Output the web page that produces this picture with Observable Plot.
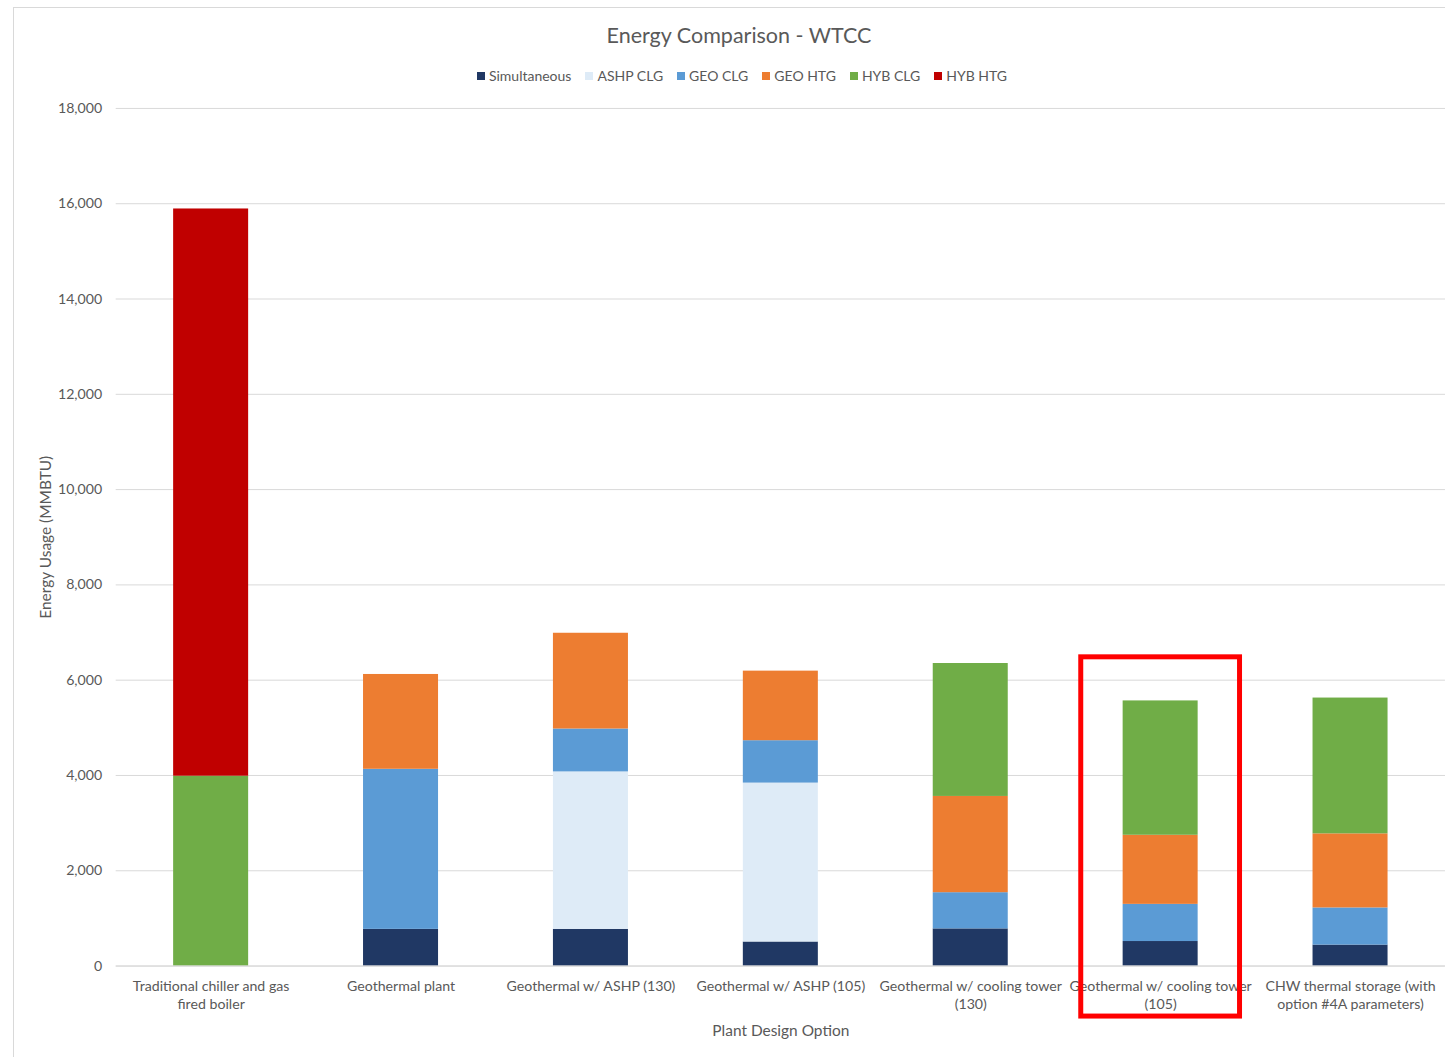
<!DOCTYPE html>
<html>
<head>
<meta charset="utf-8">
<script src="https://cdn.jsdelivr.net/npm/d3@7"></script>
<script src="https://cdn.jsdelivr.net/npm/@observablehq/plot@0.6"></script>
<style>
  html, body { margin: 0; padding: 0; background: #ffffff; overflow: hidden; }
  body { width: 1445px; height: 1057px; position: relative; font-family: Lato, "Open Sans", sans-serif; color: #595959; }
  #frame { position: absolute; left: 13px; top: 7px; width: 1500px; height: 1100px;
           border-left: 1px solid #d9d9d9; border-top: 1px solid #d9d9d9; box-sizing: border-box; }
  #title { position: absolute; left: 13px; top: 21px; width: 1452px; text-align: center;
           font-size: 21.5px; line-height: 28px; color: #595959; }
  #legend { position: absolute; left: 13px; top: 66px; width: 1458px; text-align: center;
            font-size: 14px; line-height: 18px; color: #595959; }
  #legend .item { display: inline-flex; align-items: center; margin: 0 7px; }
  #legend .sw { width: 8px; height: 8px; margin-right: 4px; display: inline-block; }
  #chart { position: absolute; left: 0; top: 88px; }
</style>
</head>
<body>
<div id="frame"></div>
<div id="title">Energy Comparison - WTCC</div>
<div id="legend"></div>
<div id="chart"></div>
<script>
// Plant design options and their axis labels
const categories = [
  "Traditional chiller and gas fired boiler",
  "Geothermal plant",
  "Geothermal w/ ASHP (130)",
  "Geothermal w/ ASHP (105)",
  "Geothermal w/ cooling tower (130)",
  "Geothermal w/ cooling tower (105)",
  "CHW thermal storage (with option #4A parameters)"
];
const tickLabels = [
  "Traditional chiller and gas\nfired boiler",
  "Geothermal plant",
  "Geothermal w/ ASHP (130)",
  "Geothermal w/ ASHP (105)",
  "Geothermal w/ cooling tower\n(130)",
  "Geothermal w/ cooling tower\n(105)",
  "CHW thermal storage (with\noption #4A parameters)"
];

// Energy components, stacked bottom to top (MMBTU)
const series = ["Simultaneous", "ASHP CLG", "GEO CLG", "GEO HTG", "HYB CLG", "HYB HTG"];
const colors = ["#203864", "#DEEBF7", "#5B9BD5", "#ED7D31", "#70AD47", "#C00000"];

const simultaneous = [0, 770, 770, 505, 780, 515, 440];
const ashpClg      = [0, 0, 3305, 3335, 0, 0, 0];
const geoClg       = [0, 3360, 900, 890, 760, 780, 780];
const geoHtg       = [0, 1990, 2010, 1460, 2020, 1450, 1555];
const hybClg       = [3985, 0, 0, 0, 2790, 2820, 2850];
const hybHtg       = [11905, 0, 0, 0, 0, 0, 0];

const yTicks = [0, 2000, 4000, 6000, 8000, 10000, 12000, 14000, 16000, 18000];

// Highlighted option, outlined across its bar and label
const highlighted = "Geothermal w/ cooling tower (105)";
const highlightRange = [-1060, 6480];

const seriesValues = [simultaneous, ashpClg, geoClg, geoHtg, hybClg, hybHtg];
const rows = categories.flatMap((c, i) =>
  series.map((s, j) => ({category: c, series: s, value: seriesValues[j][i]}))
);

// Legend
const legend = document.getElementById("legend");
series.forEach((s, j) => {
  const item = document.createElement("span");
  item.className = "item";
  item.innerHTML = `<span class="sw" style="background:${colors[j]}"></span>${s}`;
  legend.appendChild(item);
});

const chart = Plot.plot({
  width: 1449,
  height: 969,
  marginTop: 20,
  marginBottom: 89,
  marginLeft: 116,
  marginRight: 0,
  style: {fontFamily: "Lato, 'Open Sans', sans-serif", fontSize: "14.2px", color: "#595959", background: "transparent", overflow: "visible"},
  x: {domain: categories, paddingInner: 0.605, paddingOuter: 0.3025, round: false},
  y: {domain: [0, 18000]},
  color: {domain: series, range: colors},
  marks: [
    Plot.gridY(yTicks, {stroke: "#d9d9d9", strokeOpacity: 1}),
    Plot.barY(rows, {x: "category", y: "value", fill: "series", order: series}),
    Plot.ruleY([0], {stroke: "#d9d9d9"}),
    Plot.axisY(yTicks, {
      tickSize: 0, tickPadding: 14, tickFormat: d3.format(","), label: null
    }),
    Plot.axisY({
      ticks: [], label: "Energy Usage (MMBTU)", labelAnchor: "center", labelArrow: "none",
      labelOffset: 76, fontSize: 15.5
    }),
    Plot.axisX({
      tickSize: 0, tickPadding: 12, lineHeight: 1.3,
      tickFormat: d => tickLabels[categories.indexOf(d)], label: null
    }),
    Plot.axisX({
      ticks: [], label: "Plant Design Option", labelAnchor: "center", labelArrow: "none",
      labelOffset: 70, fontSize: 15.5
    }),
    Plot.barY([{category: highlighted, low: highlightRange[0], high: highlightRange[1]}], {
      x: "category", y1: "low", y2: "high",
      fill: "none", stroke: "#ff0000", strokeWidth: 5, insetLeft: -42, insetRight: -42
    })
  ]
});
document.getElementById("chart").appendChild(chart);
</script>
</body>
</html>
